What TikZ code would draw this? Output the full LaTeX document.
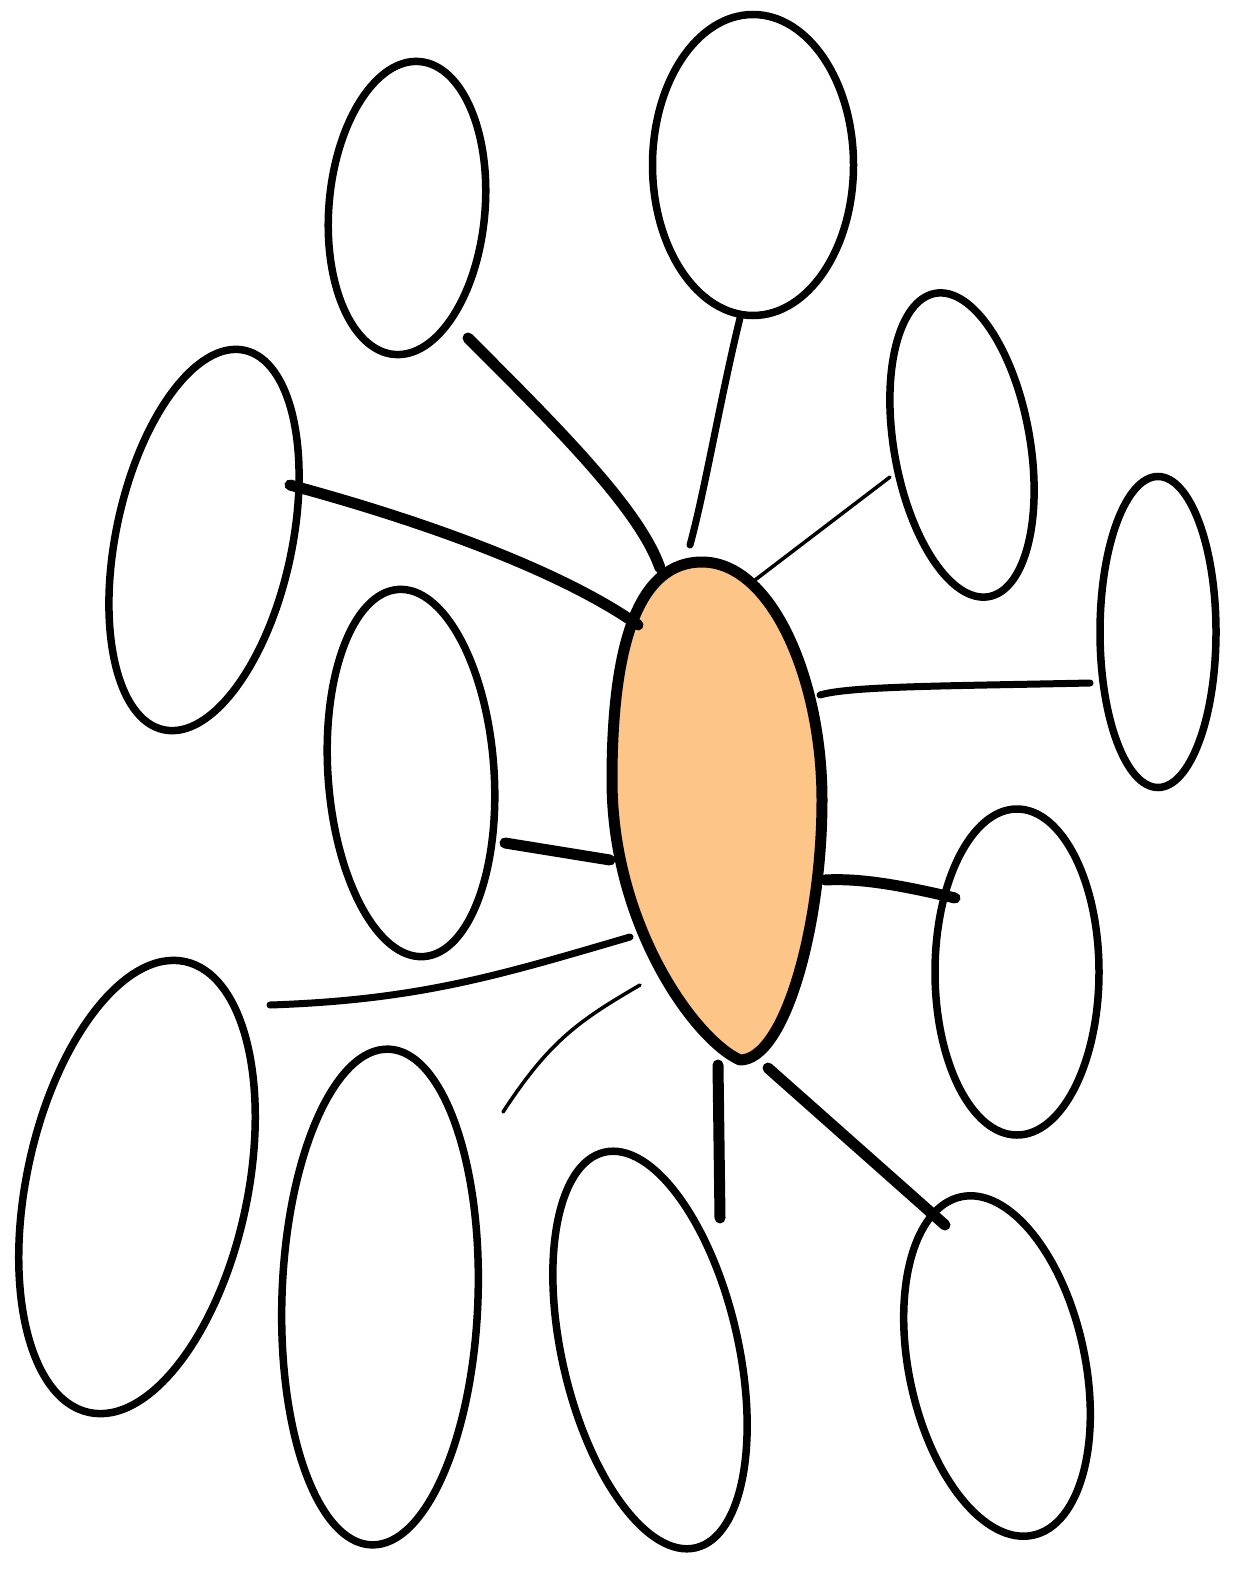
\documentclass[tikz,border=0pt]{standalone}
\usetikzlibrary{shapes.geometric}
\definecolor{hubfill}{HTML}{FDC588}
\begin{document}
\begin{tikzpicture}[x=1pt, y=-1pt,
    bubble/.style={draw, ellipse, line width=7.5pt, inner sep=0pt},
    hub/.style={draw, line width=11pt, fill=hubfill, line join=round},
    thickline/.style={line width=11pt, line cap=round},
    midline/.style={line width=7pt, line cap=round},
    thinline/.style={line width=3.5pt, line cap=round}]
    \useasboundingbox (0,0) rectangle (1235,1576);

    % Central blob
    \draw[hub] (702,562) .. controls (772,562) and (822,680) .. (822,800)
        .. controls (822,925) and (785,1060) .. (740,1060)
        .. controls (695,1040) and (612,925) .. (612,780)
        .. controls (612,640) and (640,562) .. cycle;
    \coordinate (C) at (717,810);

    % Outer bubbles
    \node[bubble, minimum width=156pt, minimum height=294pt, rotate=-5] (B1) at (407,208) {};
    \node[bubble, minimum width=201pt, minimum height=301pt] (B2) at (753,165) {};
    \node[bubble, minimum width=136pt, minimum height=308pt, rotate=10] (B3) at (962,445) {};
    \node[bubble, minimum width=116pt, minimum height=311pt] (B4) at (1158,632) {};
    \node[bubble, minimum width=164pt, minimum height=326pt] (B5) at (1017,972) {};
    \node[bubble, minimum width=176pt, minimum height=346pt, rotate=12] (B6) at (997,1366) {};
    \node[bubble, minimum width=176pt, minimum height=406pt, rotate=13] (B7) at (650,1350) {};
    \node[bubble, minimum width=196pt, minimum height=496pt, rotate=-2] (B8) at (380,1297) {};
    \node[bubble, minimum width=221pt, minimum height=461pt, rotate=-12] (B9) at (137,1187) {};
    \node[bubble, minimum width=166pt, minimum height=368pt, rotate=4] (B10) at (411,773) {};
    \node[bubble, minimum width=176pt, minimum height=388pt, rotate=-12] (B11) at (204,540) {};

    % Ends of the connectors
    \coordinate (B1-e) at (468,338);   \coordinate (C-1) at (660,568);
    \coordinate (B2-e) at (740,318);   \coordinate (C-2) at (690,545);
    \coordinate (B3-e) at (890,477);   \coordinate (C-3) at (755,580);
    \coordinate (B4-e) at (1090,683);  \coordinate (C-4) at (820,695);
    \coordinate (B5-e) at (955,898);   \coordinate (C-5) at (825,880);
    \coordinate (B6-e) at (945,1225);  \coordinate (C-6) at (768,1068);
    \coordinate (B7-e) at (720,1218);  \coordinate (C-7) at (718,1065);
    \coordinate (B8-e) at (503,1112);  \coordinate (C-8) at (640,985);
    \coordinate (B9-e) at (270,1005);  \coordinate (C-9) at (630,937);
    \coordinate (B10-e) at (505,843);  \coordinate (C-10) at (610,860);
    \coordinate (B11-e) at (290,485);  \coordinate (C-11) at (638,625);

    % Connectors
    \draw[thickline] (B1-e) .. controls (560,430) and (640,510) .. (C-1);
    \draw[midline] (B2-e) .. controls (720,400) and (705,490) .. (C-2);
    \draw[thinline] (B3-e) -- (C-3);
    \draw[midline] (B4-e) .. controls (950,686) and (850,686) .. (C-4);
    \draw[thickline] (B5-e) .. controls (900,885) and (860,878) .. (C-5);
    \draw[thickline] (B6-e) -- (C-6);
    \draw[thickline] (B7-e) -- (C-7);
    \draw[thinline] (B8-e) .. controls (550,1040) and (580,1020) .. (C-8);
    \draw[midline] (B9-e) .. controls (420,1000) and (500,975) .. (C-9);
    \draw[thickline] (B10-e) -- (C-10);
    \draw[thickline] (B11-e) .. controls (420,520) and (560,570) .. (C-11);
\end{tikzpicture}
\end{document}
